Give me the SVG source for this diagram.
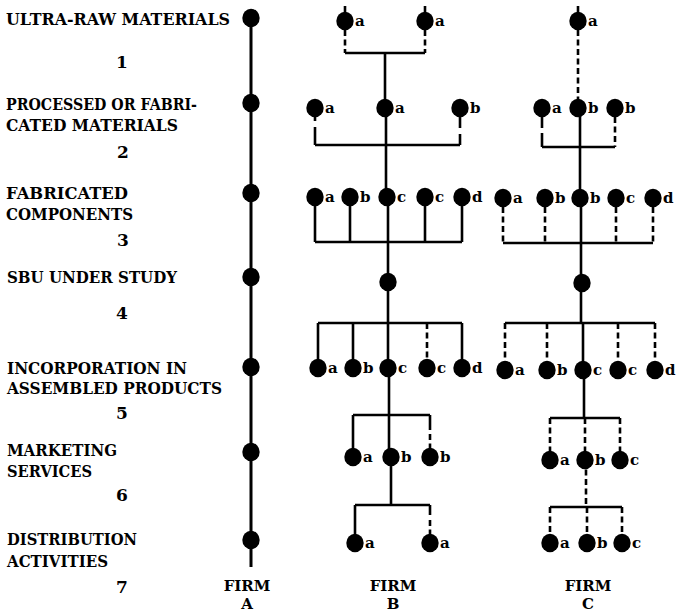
<svg xmlns="http://www.w3.org/2000/svg" width="677" height="613" viewBox="0 0 677 613">
<style>
text{font-family:"DejaVu Serif","Liberation Serif",serif;font-weight:bold;fill:#000}
.t{font-size:16.5px}
.num{font-size:17px;text-anchor:middle}
.lt{font-size:15px}
.firm{font-size:15px;text-anchor:middle}
.s{stroke:#000;stroke-width:2.6;fill:none}
.a{stroke:#000;stroke-width:3;fill:none}
.d{stroke:#000;stroke-width:2.6;fill:none;stroke-dasharray:6 3.5}
</style>
<defs>
<ellipse id="dot" cx="0" cy="0" rx="8.7" ry="9.2"/>
</defs>
<rect width="677" height="613" fill="#fff"/>
<g id="labels">
<text class="t" x="6" y="25" textLength="224" lengthAdjust="spacingAndGlyphs">ULTRA-RAW MATERIALS</text>
<text class="num" x="122" y="68">1</text>
<text class="t" x="6" y="110" textLength="191" lengthAdjust="spacingAndGlyphs">PROCESSED OR FABRI-</text>
<text class="t" x="6" y="131" textLength="172" lengthAdjust="spacingAndGlyphs">CATED MATERIALS</text>
<text class="num" x="123" y="158">2</text>
<text class="t" x="6" y="199" textLength="122" lengthAdjust="spacingAndGlyphs">FABRICATED</text>
<text class="t" x="6" y="220" textLength="127" lengthAdjust="spacingAndGlyphs">COMPONENTS</text>
<text class="num" x="123" y="246">3</text>
<text class="t" x="7" y="283" textLength="170" lengthAdjust="spacingAndGlyphs">SBU UNDER STUDY</text>
<text class="num" x="122" y="319">4</text>
<text class="t" x="7" y="374" textLength="180" lengthAdjust="spacingAndGlyphs">INCORPORATION IN</text>
<text class="t" x="7" y="394" textLength="215" lengthAdjust="spacingAndGlyphs">ASSEMBLED PRODUCTS</text>
<text class="num" x="122" y="419">5</text>
<text class="t" x="7" y="456" textLength="110" lengthAdjust="spacingAndGlyphs">MARKETING</text>
<text class="t" x="7" y="477" textLength="85" lengthAdjust="spacingAndGlyphs">SERVICES</text>
<text class="num" x="122" y="501">6</text>
<text class="t" x="7" y="545" textLength="130" lengthAdjust="spacingAndGlyphs">DISTRIBUTION</text>
<text class="t" x="7" y="567" textLength="101" lengthAdjust="spacingAndGlyphs">ACTIVITIES</text>
<text class="num" x="122" y="593">7</text>
<text class="firm" x="247" y="591">FIRM</text>
<text class="firm" x="247" y="609">A</text>
<text class="firm" x="393" y="591">FIRM</text>
<text class="firm" x="393" y="609">B</text>
<text class="firm" x="588" y="591">FIRM</text>
<text class="firm" x="588" y="609">C</text>
</g>
<g id="connectors">
<!-- Firm A -->
<line class="a" x1="251" y1="12" x2="251" y2="567"/>
<!-- Firm B -->
<line class="s" x1="345" y1="6" x2="345" y2="14"/>
<line class="s" x1="425" y1="6" x2="425" y2="14"/>
<line class="d" x1="345" y1="30" x2="345" y2="53"/>
<line class="d" x1="425" y1="30" x2="425" y2="53"/>
<line class="s" x1="345" y1="53" x2="425" y2="53"/>
<line class="s" x1="385" y1="53" x2="385" y2="108"/>
<line class="s" x1="315" y1="117" x2="315" y2="121"/>
<line class="s" x1="315" y1="127" x2="315" y2="145"/>
<line class="s" x1="460" y1="117" x2="460" y2="128"/>
<line class="s" x1="460" y1="134" x2="460" y2="145"/>
<line class="s" x1="315" y1="145" x2="460" y2="145"/>
<line class="s" x1="386" y1="108" x2="386" y2="197"/>
<line class="s" x1="315" y1="197" x2="315" y2="242"/>
<line class="s" x1="350" y1="197" x2="350" y2="242"/>
<line class="s" x1="425" y1="197" x2="425" y2="242"/>
<line class="s" x1="462" y1="197" x2="462" y2="242"/>
<line class="s" x1="315" y1="242" x2="462" y2="242"/>
<line class="s" x1="388" y1="197" x2="388" y2="368"/>
<line class="s" x1="318" y1="323" x2="462" y2="323"/>
<line class="s" x1="318" y1="323" x2="318" y2="368"/>
<line class="s" x1="353" y1="323" x2="353" y2="368"/>
<line class="d" x1="427" y1="323" x2="427" y2="368"/>
<line class="s" x1="462" y1="323" x2="462" y2="368"/>
<line class="s" x1="389" y1="368" x2="389" y2="457"/>
<line class="s" x1="353" y1="415" x2="430" y2="415"/>
<line class="s" x1="353" y1="415" x2="353" y2="457"/>
<line class="s" x1="430" y1="415" x2="430" y2="430"/>
<line class="d" x1="430" y1="434" x2="430" y2="457"/>
<line class="s" x1="391" y1="457" x2="391" y2="505"/>
<line class="s" x1="355" y1="505" x2="430" y2="505"/>
<line class="s" x1="355" y1="505" x2="355" y2="543"/>
<line class="s" x1="430" y1="505" x2="430" y2="515"/>
<line class="d" x1="430" y1="520" x2="430" y2="543"/>
<!-- Firm C -->
<line class="s" x1="578" y1="6" x2="578" y2="14"/>
<line class="d" x1="578" y1="30" x2="578" y2="108"/>
<line class="s" x1="542" y1="117" x2="542" y2="128"/>
<line class="s" x1="542" y1="133" x2="542" y2="147"/>
<line class="d" x1="615" y1="117" x2="615" y2="147"/>
<line class="s" x1="542" y1="147" x2="615" y2="147"/>
<line class="s" x1="580" y1="108" x2="580" y2="198"/>
<line class="d" x1="503" y1="207" x2="503" y2="243"/>
<line class="d" x1="545" y1="207" x2="545" y2="243"/>
<line class="d" x1="616" y1="207" x2="616" y2="243"/>
<line class="d" x1="653" y1="207" x2="653" y2="243"/>
<line class="s" x1="503" y1="243" x2="653" y2="243"/>
<line class="s" x1="581" y1="198" x2="581" y2="323"/>
<line class="s" x1="505" y1="323" x2="655" y2="323"/>
<line class="d" x1="505" y1="323" x2="505" y2="370"/>
<line class="d" x1="547" y1="323" x2="547" y2="370"/>
<line class="s" x1="583" y1="323" x2="583" y2="370"/>
<line class="d" x1="618" y1="323" x2="618" y2="370"/>
<line class="d" x1="655" y1="323" x2="655" y2="370"/>
<line class="s" x1="584" y1="370" x2="584" y2="418"/>
<line class="s" x1="550" y1="418" x2="620" y2="418"/>
<line class="d" x1="550" y1="418" x2="550" y2="460"/>
<line class="d" x1="585" y1="418" x2="585" y2="460"/>
<line class="d" x1="620" y1="418" x2="620" y2="460"/>
<line class="d" x1="586" y1="460" x2="586" y2="507"/>
<line class="s" x1="550" y1="507" x2="622" y2="507"/>
<line class="d" x1="550" y1="507" x2="550" y2="543"/>
<line class="d" x1="587" y1="507" x2="587" y2="543"/>
<line class="d" x1="622" y1="507" x2="622" y2="543"/>
</g>
<g id="firmA">
<g id="A1"><use href="#dot" x="251" y="18"/></g>
<g id="A2"><use href="#dot" x="251" y="103"/></g>
<g id="A3"><use href="#dot" x="251" y="193"/></g>
<g id="A4"><use href="#dot" x="251" y="277"/></g>
<g id="A5"><use href="#dot" x="251" y="367"/></g>
<g id="A6"><use href="#dot" x="251" y="452"/></g>
<g id="A7"><use href="#dot" x="251" y="540"/></g>
</g>
<g id="firmB">
<g id="B1a"><use href="#dot" x="345" y="21"/><text class="lt" x="355" y="26">a</text></g>
<g id="B1b"><use href="#dot" x="425" y="21"/><text class="lt" x="435" y="26">a</text></g>
<g id="B2a"><use href="#dot" x="315" y="108"/><text class="lt" x="325" y="113">a</text></g>
<g id="B2b"><use href="#dot" x="385" y="108"/><text class="lt" x="395" y="113">a</text></g>
<g id="B2c"><use href="#dot" x="460" y="108"/><text class="lt" x="470" y="113">b</text></g>
<g id="B3a"><use href="#dot" x="315" y="197"/><text class="lt" x="325" y="202">a</text></g>
<g id="B3b"><use href="#dot" x="350" y="197"/><text class="lt" x="360" y="202">b</text></g>
<g id="B3c"><use href="#dot" x="387" y="197"/><text class="lt" x="397" y="202">c</text></g>
<g id="B3d"><use href="#dot" x="425" y="197"/><text class="lt" x="435" y="202">c</text></g>
<g id="B3e"><use href="#dot" x="462" y="197"/><text class="lt" x="472" y="202">d</text></g>
<g id="B4"><use href="#dot" x="388" y="282"/></g>
<g id="B5a"><use href="#dot" x="318" y="368"/><text class="lt" x="328" y="373">a</text></g>
<g id="B5b"><use href="#dot" x="353" y="368"/><text class="lt" x="363" y="373">b</text></g>
<g id="B5c"><use href="#dot" x="388" y="368"/><text class="lt" x="398" y="373">c</text></g>
<g id="B5d"><use href="#dot" x="427" y="368"/><text class="lt" x="437" y="373">c</text></g>
<g id="B5e"><use href="#dot" x="462" y="368"/><text class="lt" x="472" y="373">d</text></g>
<g id="B6a"><use href="#dot" x="353" y="457"/><text class="lt" x="363" y="462">a</text></g>
<g id="B6b"><use href="#dot" x="391" y="457"/><text class="lt" x="401" y="462">b</text></g>
<g id="B6c"><use href="#dot" x="430" y="457"/><text class="lt" x="440" y="462">b</text></g>
<g id="B7a"><use href="#dot" x="355" y="543"/><text class="lt" x="365" y="548">a</text></g>
<g id="B7b"><use href="#dot" x="430" y="543"/><text class="lt" x="440" y="548">a</text></g>
</g>
<g id="firmC">
<g id="C1"><use href="#dot" x="578" y="21"/><text class="lt" x="588" y="26">a</text></g>
<g id="C2a"><use href="#dot" x="542" y="108"/><text class="lt" x="552" y="113">a</text></g>
<g id="C2b"><use href="#dot" x="578" y="108"/><text class="lt" x="588" y="113">b</text></g>
<g id="C2c"><use href="#dot" x="615" y="108"/><text class="lt" x="625" y="113">b</text></g>
<g id="C3a"><use href="#dot" x="503" y="198"/><text class="lt" x="513" y="203">a</text></g>
<g id="C3b"><use href="#dot" x="545" y="198"/><text class="lt" x="555" y="203">b</text></g>
<g id="C3c"><use href="#dot" x="580" y="198"/><text class="lt" x="590" y="203">b</text></g>
<g id="C3d"><use href="#dot" x="616" y="198"/><text class="lt" x="626" y="203">c</text></g>
<g id="C3e"><use href="#dot" x="653" y="198"/><text class="lt" x="663" y="203">d</text></g>
<g id="C4"><use href="#dot" x="582" y="283"/></g>
<g id="C5a"><use href="#dot" x="505" y="370"/><text class="lt" x="515" y="375">a</text></g>
<g id="C5b"><use href="#dot" x="547" y="370"/><text class="lt" x="557" y="375">b</text></g>
<g id="C5c"><use href="#dot" x="583" y="370"/><text class="lt" x="593" y="375">c</text></g>
<g id="C5d"><use href="#dot" x="618" y="370"/><text class="lt" x="628" y="375">c</text></g>
<g id="C5e"><use href="#dot" x="655" y="370"/><text class="lt" x="665" y="375">d</text></g>
<g id="C6a"><use href="#dot" x="550" y="460"/><text class="lt" x="560" y="465">a</text></g>
<g id="C6b"><use href="#dot" x="585" y="460"/><text class="lt" x="595" y="465">b</text></g>
<g id="C6c"><use href="#dot" x="620" y="460"/><text class="lt" x="630" y="465">c</text></g>
<g id="C7a"><use href="#dot" x="550" y="543"/><text class="lt" x="560" y="548">a</text></g>
<g id="C7b"><use href="#dot" x="587" y="543"/><text class="lt" x="597" y="548">b</text></g>
<g id="C7c"><use href="#dot" x="622" y="543"/><text class="lt" x="632" y="548">c</text></g>
</g>
</svg>
